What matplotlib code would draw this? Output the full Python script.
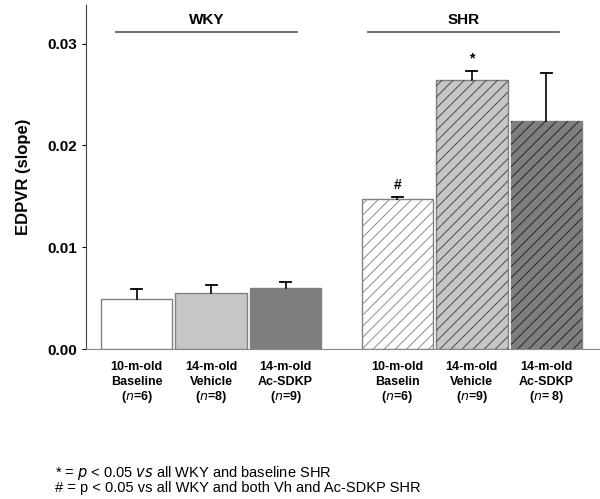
import matplotlib.pyplot as plt
import numpy as np

plt.rcParams["font.family"] = ["Liberation Sans", "DejaVu Sans"]
plt.rcParams["hatch.linewidth"] = 0.7

# --- data ---
groups = ["WKY", "SHR"]
line1 = ["10-m-old", "14-m-old", "14-m-old", "10-m-old", "14-m-old", "14-m-old"]
line2 = ["Baseline", "Vehicle", "Ac-SDKP", "Baselin", "Vehicle", "Ac-SDKP"]
n_labels = ["6", "8", "9", "6", "9", " 8"]
means = [0.0049, 0.0055, 0.0060, 0.01475, 0.02645, 0.0224]
errs = [0.0010, 0.0008, 0.0006, 0.00015, 0.0009, 0.0047]
marks = ["", "", "", "#", "*", ""]
positions = [0, 1, 2, 3.5, 4.5, 5.5]
fills = ["white", "#c6c6c6", "#7e7e7e", "white", "#c6c6c6", "#7e7e7e"]
hatch_cols = [None, None, None, "#8a8a8a", "#4a4a4a", "#262626"]

fig = plt.figure(figsize=(6, 4.99), dpi=100)
ax = fig.add_axes([0.1433, 0.3006, 0.8567, 0.6894])

for x, m, e, c, hc, mk in zip(positions, means, errs, fills, hatch_cols, marks):
    ax.bar(x, m, width=0.96, color=c, edgecolor="#808080", linewidth=1.0,
           zorder=2)
    if hc:
        # hatch overlay so the hatch colour can differ from the bar edge
        ax.bar(x, m, width=0.96, color="none", edgecolor=hc, linewidth=0,
               hatch="///", zorder=2.5)
    # upper-only error bar with cap
    ax.plot([x, x], [m, m + e], color="black", linewidth=1.2, zorder=3)
    ax.plot([x - 0.075, x + 0.075], [m + e, m + e], color="black",
            linewidth=1.3, zorder=3)
    if mk:
        ax.text(x, m + e + 0.0005, mk, ha="center", va="bottom",
                fontsize=10, fontweight="bold")

# group headers
for g, (x0, x1) in zip(groups, [(-0.28, 2.15), (3.1, 5.67)]):
    ax.plot([x0, x1], [0.0311, 0.0311], color="#555555", linewidth=1.2,
            clip_on=False)
    ax.text((x0 + x1) / 2, 0.03235, g, ha="center", va="center",
            fontsize=11, fontweight="bold")

ax.set_xlim(-0.68, 6.22)
ax.set_ylim(0, 0.0338)
ax.set_yticks([0, 0.01, 0.02, 0.03])
ax.set_yticklabels(["0.00", "0.01", "0.02", "0.03"], fontsize=11,
                   fontweight="bold")
ax.set_xticks([])
ax.tick_params(axis="y", length=3, width=0.8)
ax.spines["top"].set_visible(False)
ax.spines["right"].set_visible(False)
ax.spines["left"].set_color("#444444")
ax.spines["bottom"].set_color("#888888")
ax.set_ylabel("EDPVR (slope)", fontsize=12, fontweight="bold", labelpad=12)

# category labels under the bars
trans = ax.get_xaxis_transform()
for x, a, b, n in zip(positions, line1, line2, n_labels):
    ax.text(x, -0.052, a, transform=trans, ha="center", va="center",
            fontsize=9, fontweight="bold")
    ax.text(x, -0.097, b, transform=trans, ha="center", va="center",
            fontsize=9, fontweight="bold")
    ax.text(x, -0.14, "($\\it{n}$=" + n + ")", transform=trans,
            ha="center", va="center", fontsize=9, fontweight="bold")

# footnotes
fig.text(0.092, 1 - 473 / 499, "* = $\\it{p}$ < 0.05 $\\it{vs}$ all WKY and baseline SHR",
         fontsize=10.5, va="center")
fig.text(0.092, 1 - 488 / 499, "# = p < 0.05 vs all WKY and both Vh and Ac-SDKP SHR",
         fontsize=10.5, va="center")

fig.savefig("out.png", dpi=100)
